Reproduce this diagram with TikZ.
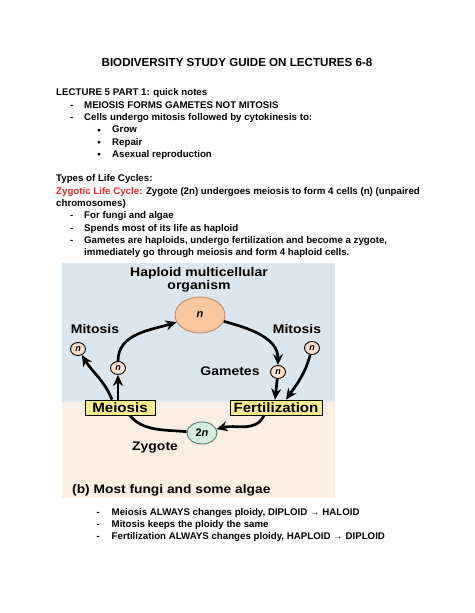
\documentclass[tikz,border=0pt]{standalone}
\usepackage{fontspec}
\setmainfont{Liberation Sans}
\newfontfamily\figfont[FakeStretch=1.12]{Liberation Sans}
\usetikzlibrary{positioning,shapes.geometric,arrows.meta}
\definecolor{skyback}{HTML}{DCE6EE}
\definecolor{sandback}{HTML}{FBEFE3}
\definecolor{cellfill}{HTML}{F9C6A0}
\definecolor{cellline}{HTML}{B9805A}
\definecolor{zygfill}{HTML}{D6EEE2}
\definecolor{zygline}{HTML}{4E7E6E}
\definecolor{boxfill}{HTML}{F6EE8C}
\definecolor{zygred}{HTML}{E3262C}
\newcommand{\dashitem}{\makebox[14pt][l]{-}}
\newcommand{\dotitem}{\makebox[15pt][l]{\raisebox{0.4pt}{\fontsize{6.5}{7}\selectfont ●}}}
\tikzset{
  title text/.style={anchor=base,inner sep=0pt,font=\fontsize{11.6}{13}\selectfont\bfseries},
  body text/.style={anchor=base west,inner sep=0pt,font=\fontsize{9.7}{12}\selectfont\bfseries},
  fig label/.style={anchor=mid,inner sep=0pt,font=\figfont\fontsize{12.5}{13}\selectfont\bfseries},
  big cell/.style={ellipse,draw=cellline,fill=cellfill,line width=0.8pt,minimum width=50pt,minimum height=36pt,inner sep=0pt,font=\fontsize{11}{11}\selectfont\bfseries\itshape},
  small cell/.style={ellipse,draw=black,fill=cellfill!55,line width=0.9pt,minimum width=15pt,minimum height=13pt,inner sep=0pt,font=\fontsize{9}{9}\selectfont\bfseries\itshape},
  zyg cell/.style={ellipse,draw=zygline,fill=zygfill,line width=0.9pt,minimum width=30pt,minimum height=22pt,inner sep=0pt,font=\fontsize{11}{11}\selectfont\bfseries},
  stage box/.style={rectangle,draw=black,fill=boxfill,line width=0.8pt,minimum height=15pt,inner sep=0pt,font=\figfont\fontsize{13.5}{14}\selectfont\bfseries},
  cycle arrow/.style={line width=2.7pt,-{Stealth[length=11pt,width=10pt]}}
}
\begin{document}
\begin{tikzpicture}[x=1pt,y=-1pt]
\useasboundingbox (0,0) rectangle (474,613);
% notes
\node[title text] (title) at (237,66.2) {BIODIVERSITY STUDY GUIDE ON LECTURES 6-8};
\node[body text] (lect) at (56,95.8) {LECTURE 5 PART 1: quick notes};
\node[body text] (lectA) at (70,108.1) {\dashitem MEIOSIS FORMS GAMETES NOT MITOSIS};
\node[body text] (lectB) at (70,120.4) {\dashitem Cells undergo mitosis followed by cytokinesis to:};
\node[body text] (grow) at (97,132.7) {\dotitem Grow};
\node[body text] (repair) at (97,145) {\dotitem Repair};
\node[body text] (asex) at (97,157.3) {\dotitem Asexual reproduction};
\node[body text] (types) at (56,181.9) {Types of Life Cycles:};
\node[body text] (zyg) at (56,194.2) {{\color{zygred}Zygotic Life Cycle:} Zygote (2n) undergoes meiosis to form 4 cells (n) (unpaired};
\node[body text] (chrom) at (56,206.5) {chromosomes)};
\node[body text] (fungi) at (70,218.8) {\dashitem For fungi and algae};
\node[body text] (spends) at (70,231.1) {\dashitem Spends most of its life as haploid};
\node[body text] (gam) at (70,243.4) {\dashitem Gametes are haploids, undergo fertilization and become a zygote,};
\node[body text] (gamB) at (84,255.7) {immediately go through meiosis and form 4 haploid cells.};

% figure
\fill[skyback] (62,263) rectangle (335,402);
\fill[sandback] (62,402) rectangle (335,498);
\node[fig label] (haplab) at (199,274) {Haploid multicellular};
\node[fig label] (orglab) at (199,287) {organism};
\node[big cell] (big) at (200,315) {n};
\node[fig label] (mitl) at (95,331) {Mitosis};
\node[fig label] (mitr) at (297,331) {Mitosis};
\node[small cell] (nl) at (78,349) {n};
\node[small cell] (nm) at (118,368) {n};
\node[small cell] (nr) at (312,348) {n};
\node[small cell] (ng) at (278,372) {n};
\node[fig label] (gamlab) at (230,373) {Gametes};
\node[zyg cell] (twon) at (202,433) {2\textit{n}};
\node[fig label] (zyglab) at (155,448) {Zygote};
\draw[line width=2.7pt] (twon) to[out=175,in=-60] (126,410);
\node[stage box,minimum width=70pt] (meiosis) at (120,407.5) {Meiosis};
\node[stage box,minimum width=92pt] (fert) at (276,407.5) {Fertilization};
\node[anchor=base west,inner sep=0pt,font=\figfont\fontsize{12.3}{13}\selectfont\bfseries] (caption) at (72,493.4) {(b) Most fungi and some algae};

\draw[cycle arrow] ([xshift=-8pt]meiosis.north) to[out=112,in=-58] (nl);
\draw[cycle arrow] ([xshift=-2pt]meiosis.north) -- (nm);
\draw[cycle arrow] (nm) to[out=90,in=197] (big);
\draw[cycle arrow] (big) to[out=-15,in=90] (ng);
\draw[cycle arrow] (ng) -- ([xshift=-1pt]fert.north);
\draw[cycle arrow] (nr) to[out=-105,in=55] ([xshift=10pt]fert.north);
\draw[cycle arrow] ([xshift=-12pt]fert.south) to[out=-115,in=15] (twon);

% after the figure
\node[body text] (meio) at (96.5,515.5) {\makebox[15pt][l]{-}Meiosis ALWAYS changes ploidy, DIPLOID → HALOID};
\node[body text] (mito) at (96.5,527) {\makebox[15pt][l]{-}Mitosis keeps the ploidy the same};
\node[body text] (fertB) at (96.5,539.2) {\makebox[15pt][l]{-}Fertilization ALWAYS changes ploidy, HAPLOID → DIPLOID};
\end{tikzpicture}
\end{document}
